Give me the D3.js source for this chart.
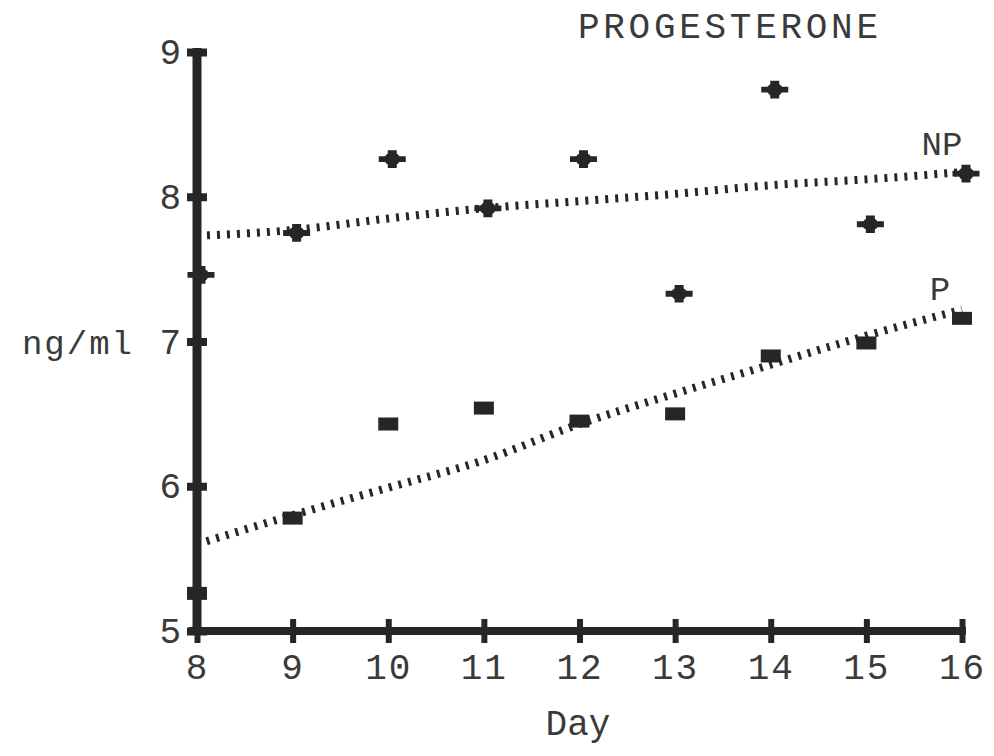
<!DOCTYPE html>
<html>
<head>
<meta charset="utf-8">
<script src="https://cdn.jsdelivr.net/npm/d3@7"></script>
<style>
  body { margin: 0; background: #fff; }
  text { font-family: "Liberation Mono", "DejaVu Sans Mono", monospace; fill: #3a3a3a; }
</style>
</head>
<body>
<svg id="chart" width="994" height="756"></svg>
<script>
// values
var days = [8, 9, 10, 11, 12, 13, 14, 15, 16];
var npValues = [7.46, 7.75, 8.26, 7.92, 8.26, 7.33, 8.74, 7.81, 8.16];
var pValues = [5.26, 5.78, 6.43, 6.54, 6.45, 6.50, 6.90, 6.99, 7.16];
var npTrend = [7.73, 7.77, 7.85, 7.92, 7.97, 8.02, 8.08, 8.12, 8.17];
var pTrend = [5.60, 5.80, 5.99, 6.18, 6.43, 6.64, 6.84, 7.04, 7.22];
var yTicks = [5, 6, 7, 8, 9];

var ink = "#262626";

function DrawChart()
{
  var svg = d3.select("#chart");

  var xScale = d3.scaleLinear().domain([8, 16]).range([197, 962]);
  var yScale = d3.scaleLinear().domain([5, 9]).range([631, 52]);

  // trend lines first, so the markers sit on top
  var line = d3.line()
               .x(function(d, i) { return xScale(days[i]); })
               .y(function(d) { return yScale(d); })
               .curve(d3.curveMonotoneX);

  [npTrend, pTrend].forEach(function(t) {
    svg.append("path")
       .attr("d", line(t))
       .attr("fill", "none")
       .attr("stroke", ink)
       .attr("stroke-width", 8)
       .attr("stroke-dasharray", "3,7");
  });

  // x axis
  var xAxis = d3.axisBottom(xScale).tickValues(days).tickFormat(d3.format("d")).tickSize(0).tickPadding(22);
  var gx = svg.append("g").attr("transform", "translate(0," + yScale(5) + ")").call(xAxis);
  gx.select(".domain").attr("stroke", ink).attr("stroke-width", 8).attr("d", "M" + (xScale(8) - 8) + ",0H" + (xScale(16) + 4));
  gx.selectAll(".tick line").attr("y1", -12).attr("y2", 12).attr("stroke", ink).attr("stroke-width", 6);
  gx.selectAll(".tick text").style("font-size", "36px").attr("fill", "#3a3a3a").attr("letter-spacing", "2");

  // y axis
  var yAxis = d3.axisLeft(yScale).tickValues(yTicks).tickFormat(d3.format("d")).tickSize(0).tickPadding(16);
  var gy = svg.append("g").attr("transform", "translate(" + xScale(8) + ",0)").call(yAxis);
  gy.select(".domain").attr("stroke", ink).attr("stroke-width", 9).attr("d", "M0," + (yScale(9) - 4) + "V" + (yScale(5) + 4));
  gy.selectAll(".tick line").attr("x1", -10).attr("x2", 10).attr("stroke", ink).attr("stroke-width", 8);
  gy.selectAll(".tick text").style("font-size", "36px").attr("fill", "#3a3a3a");

  // NP markers (drawn a little right of the tick, as in the original plot)
  var cross = d3.symbol().type(d3.symbolCross).size(240);
  svg.append("g").selectAll("g").data(npValues).join("g")
     .attr("transform", function(d, i) { return "translate(" + (xScale(days[i]) + 4) + "," + yScale(d) + ")"; })
     .each(function() {
       var g = d3.select(this);
       g.append("ellipse").attr("rx", 8).attr("ry", 6.5).attr("fill", ink);
       g.append("path").attr("d", cross).attr("fill", ink).attr("transform", "scale(1.3,0.85)");
     });

  // P markers
  svg.append("g").selectAll("rect").data(pValues).join("rect")
     .attr("x", function(d, i) { return xScale(days[i]) - 10; })
     .attr("y", function(d) { return yScale(d) - 6.5; })
     .attr("width", 20)
     .attr("height", 13)
     .attr("fill", ink);

  // labels
  svg.append("text").attr("x", 728).attr("y", 38).attr("text-anchor", "middle")
     .attr("textLength", 300).style("font-size", "36px").text("PROGESTERONE");
  svg.append("text").attr("x", 578).attr("y", 735).attr("text-anchor", "middle")
     .style("font-size", "36px").text("Day");
  svg.append("text").attr("x", 134).attr("y", 354).attr("text-anchor", "end")
     .attr("letter-spacing", "2").style("font-size", "34px").text("ng/ml");
  svg.append("text").attr("x", 942).attr("y", 155).attr("text-anchor", "middle")
     .style("font-size", "34px").text("NP");
  svg.append("text").attr("x", 940).attr("y", 300).attr("text-anchor", "middle")
     .style("font-size", "34px").text("P");
}

DrawChart();
</script>
</body>
</html>
